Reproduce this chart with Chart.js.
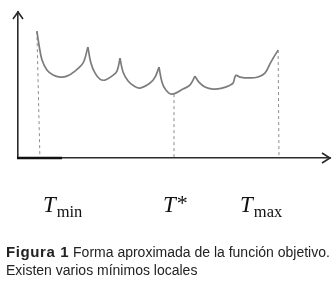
<!DOCTYPE html>
<html>
<head>
<meta charset="utf-8">
<script src="https://cdn.jsdelivr.net/npm/chart.js@4.4.1/dist/chart.umd.min.js"></script>
<style>
  html, body { margin: 0; padding: 0; background: #fff; }
  #wrap { position: relative; width: 336px; height: 291px; overflow: hidden; }
  #chart { position: absolute; left: 0; top: 0; }
  #caption {
    position: absolute; left: 6px; top: 243px;
    font-family: "Liberation Sans", Arial, sans-serif;
    font-size: 14px; line-height: 18px; color: #222; white-space: nowrap;
  }
  #caption b { font-weight: bold; font-size: 15px; letter-spacing: 0.6px; }
</style>
</head>
<body>
<div id="wrap">
  <canvas id="chart" width="336" height="291"></canvas>
  <div id="caption"><b>Figura 1</b> Forma aproximada de la función objetivo.<br>Existen varios mínimos locales</div>
</div>
<script>
// objective function (x: temperature, y: value)
const curveX = [6.3, 7.0, 8.0, 9.7, 11.7, 14.0, 16.3, 19.0, 21.7, 23.3,
                24.3, 25.7, 27.3, 29.0, 31.3, 33.0, 34.0,
                35.0, 36.7, 38.7, 40.7, 44.0, 45.7, 47.0,
                48.0, 49.3, 51.3, 55.0, 57.3, 59.0,
                60.3, 62.3, 65.0, 68.0, 70.7, 71.7, 72.3, 72.7,
                74.0, 77.3, 80.0, 82.3, 84.3, 86.7];
const curveY = [42.3, 37.7, 32.7, 29.3, 27.7, 27.0, 27.3, 29.0, 31.7, 37.0,
                31.7, 28.3, 26.3, 26.0, 27.3, 29.0, 33.3,
                28.7, 25.7, 24.0, 23.3, 25.0, 27.0, 30.3,
                25.3, 22.7, 21.3, 23.0, 24.3, 27.3,
                25.3, 23.7, 23.0, 23.3, 24.3, 25.0, 27.0, 27.7,
                27.0, 26.7, 27.0, 28.3, 32.0, 36.0];
// indices where the curve has a cusp (arc boundaries)
const cusps = [0, 9, 16, 23, 29, 37, 43];

// dashed drop lines at T_min, T*, T_max
const dropTopX = [6.3, 52.0, 86.7];
const dropTopY = [42.3, 21.3, 36.0];
const dropBottomX = [7.3, 52.0, 87.0];
const tickNames = ['min', '*', 'max'];

const xMax = 104;
const yMax = 48.7;

const datasets = [];
for (let k = 0; k < cusps.length - 1; k++) {
    const pts = [];
    for (let i = cusps[k]; i <= cusps[k + 1]; i++) {
        pts.push({ x: curveX[i], y: curveY[i] });
    }
    datasets.push({
        data: pts,
        borderColor: '#7c7c7c',
        borderWidth: 1.7,
        tension: 0.35,
        pointRadius: 0,
    });
}
dropTopX.forEach((tx, i) => {
    datasets.push({
        data: [{ x: tx, y: dropTopY[i] }, { x: dropBottomX[i], y: 0 }],
        borderColor: '#8c8c8c',
        borderWidth: 1,
        borderDash: [3, 3],
        tension: 0,
        pointRadius: 0,
    });
});

const decorations = {
    id: 'decorations',
    afterDraw(chart) {
        const { ctx, chartArea: a, scales: { x } } = chart;
        ctx.save();
        // thicker stub of the x axis near the origin
        ctx.strokeStyle = '#111';
        ctx.lineWidth = 2.6;
        ctx.beginPath();
        ctx.moveTo(a.left - 1, a.bottom);
        ctx.lineTo(a.left + 44, a.bottom);
        ctx.stroke();
        // arrow heads
        ctx.strokeStyle = '#2a2a2a';
        ctx.lineWidth = 1.6;
        ctx.beginPath();
        ctx.moveTo(a.left - 5, a.top + 7);
        ctx.lineTo(a.left, a.top);
        ctx.lineTo(a.left + 5, a.top + 7);
        ctx.moveTo(a.right - 8, a.bottom - 5);
        ctx.lineTo(a.right, a.bottom);
        ctx.lineTo(a.right - 8, a.bottom + 5);
        ctx.stroke();
        // T labels under the axis
        const offsets = [3, -11, -39];
        ctx.fillStyle = '#111';
        ctx.textBaseline = 'alphabetic';
        dropBottomX.forEach((v, i) => {
            const px = x.getPixelForValue(v) + offsets[i];
            const base = a.bottom + 54;
            ctx.font = 'italic 23px "Liberation Serif", serif';
            ctx.fillText('T', px, base);
            const w = ctx.measureText('T').width;
            if (tickNames[i] === '*') {
                ctx.font = '22px "Liberation Serif", serif';
                ctx.fillText('*', px + w + 1, base - 2);
            } else {
                ctx.font = '16.5px "Liberation Serif", serif';
                ctx.fillText(tickNames[i], px + w + 1, base + 5);
            }
        });
        ctx.restore();
    }
};

new Chart(document.getElementById('chart'), {
    type: 'line',
    data: { datasets },
    options: {
        responsive: false,
        animation: false,
        layout: { padding: { left: 18, top: 12, right: 6, bottom: 133 } },
        plugins: { legend: { display: false }, tooltip: { enabled: false } },
        scales: {
            x: {
                type: 'linear', min: 0, max: xMax,
                grid: { display: false, drawTicks: false },
                ticks: { display: false },
                border: { display: true, color: '#2a2a2a', width: 1.6 },
                afterFit: (s) => { s.height = 0; },
            },
            y: {
                type: 'linear', min: 0, max: yMax,
                grid: { display: false, drawTicks: false },
                ticks: { display: false },
                border: { display: true, color: '#2a2a2a', width: 1.6 },
                afterFit: (s) => { s.width = 0; },
            },
        },
    },
    plugins: [decorations],
});
</script>
</body>
</html>
